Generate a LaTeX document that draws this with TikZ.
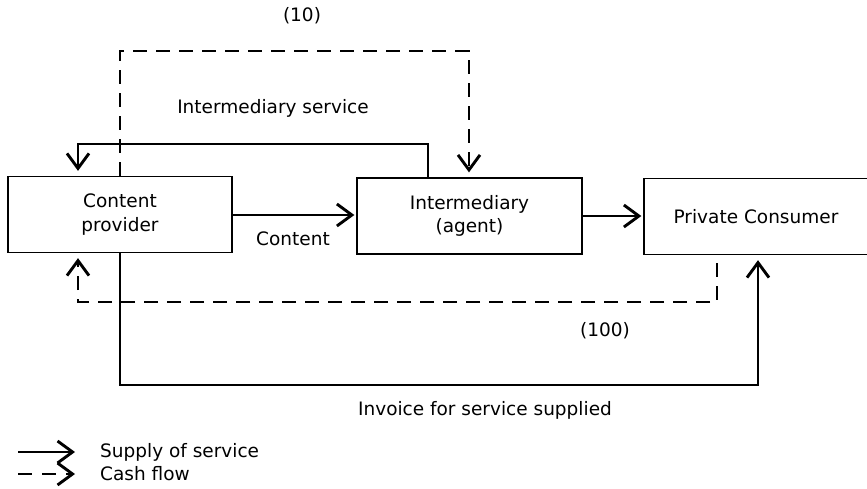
\documentclass[tikz,border=0pt]{standalone}
\usepackage{fontspec}
\setmainfont{DejaVu Sans}
\usetikzlibrary{arrows.meta}
\begin{document}
\begin{tikzpicture}[x=1pt,y=-1pt,
  box/.style={draw,line width=1.3pt,minimum width=#1,minimum height=76pt,align=center,font=\fontsize{18.5}{23.5}\selectfont,inner sep=0pt},
  lbl/.style={font=\fontsize{18.5}{22}\selectfont,inner sep=0pt},
  flow/.style={line width=2.9pt,-{Straight Barb[length=15pt,width=22pt,line width=2.9pt]}},
  cash/.style={flow,dash pattern=on 14pt off 9pt}]
\useasboundingbox (0,0) rectangle (867,488);
\node[box=224pt] (cp) at (120,214.5) {Content\\provider};
\node[box=225pt] (im) at (469.5,216) {Intermediary\\(agent)};
\node[box=224pt] (pc) at (756,216.5) {Private Consumer};
% content
\draw[flow,shorten >=2pt] (cp.east |- 0,215) -- (im.west |- 0,215);
\node[lbl] (lc) at (293,239) {Content};
\draw[flow,shorten >=2pt] (im.east |- 0,216) -- (pc.west |- 0,216);
% intermediary service
\coordinate (a1) at (428,144);
\coordinate (a2) at (78,144);
\draw[flow,shorten >=5pt] (im.north -| a1) -- (a1) -- (a2) -- (cp.north -| a2);
\node[lbl] (lis) at (273,108) {Intermediary service};
% (10)
\coordinate (b1) at (120,51);
\coordinate (b2) at (469,51);
\draw[cash,shorten >=5pt] (cp.north -| b1) -- (b1) -- (b2) -- (im.north -| b2);
\node[lbl] (l10) at (302,16) {(10)};
% (100)
\coordinate (c0) at (717,263);
\coordinate (c1) at (717,302);
\coordinate (c2) at (78,302);
\draw[cash,shorten >=5pt] (c0) -- (c1) -- (c2) -- (cp.south -| c2);
\node[lbl] (l100) at (605,331) {(100)};
% invoice
\coordinate (d1) at (120,385);
\coordinate (d2) at (758,385);
\draw[flow,shorten >=5pt] (cp.south -| d1) -- (d1) -- (d2) -- (pc.south -| d2);
\node[lbl] (linv) at (485,410) {Invoice for service supplied};
% legend
\coordinate (e1) at (18,452);
\coordinate (e2) at (75,452);
\coordinate (f1) at (18,474);
\coordinate (f2) at (75,474);
\draw[flow] (e1) -- (e2);
\draw[cash,dash pattern=on 14pt off 10pt] (f1) -- (f2);
\node[lbl,anchor=west] (ls) at (100,452) {Supply of service};
\node[lbl,anchor=west] (lcf) at (100,474) {Cash flow};
\end{tikzpicture}
\end{document}
